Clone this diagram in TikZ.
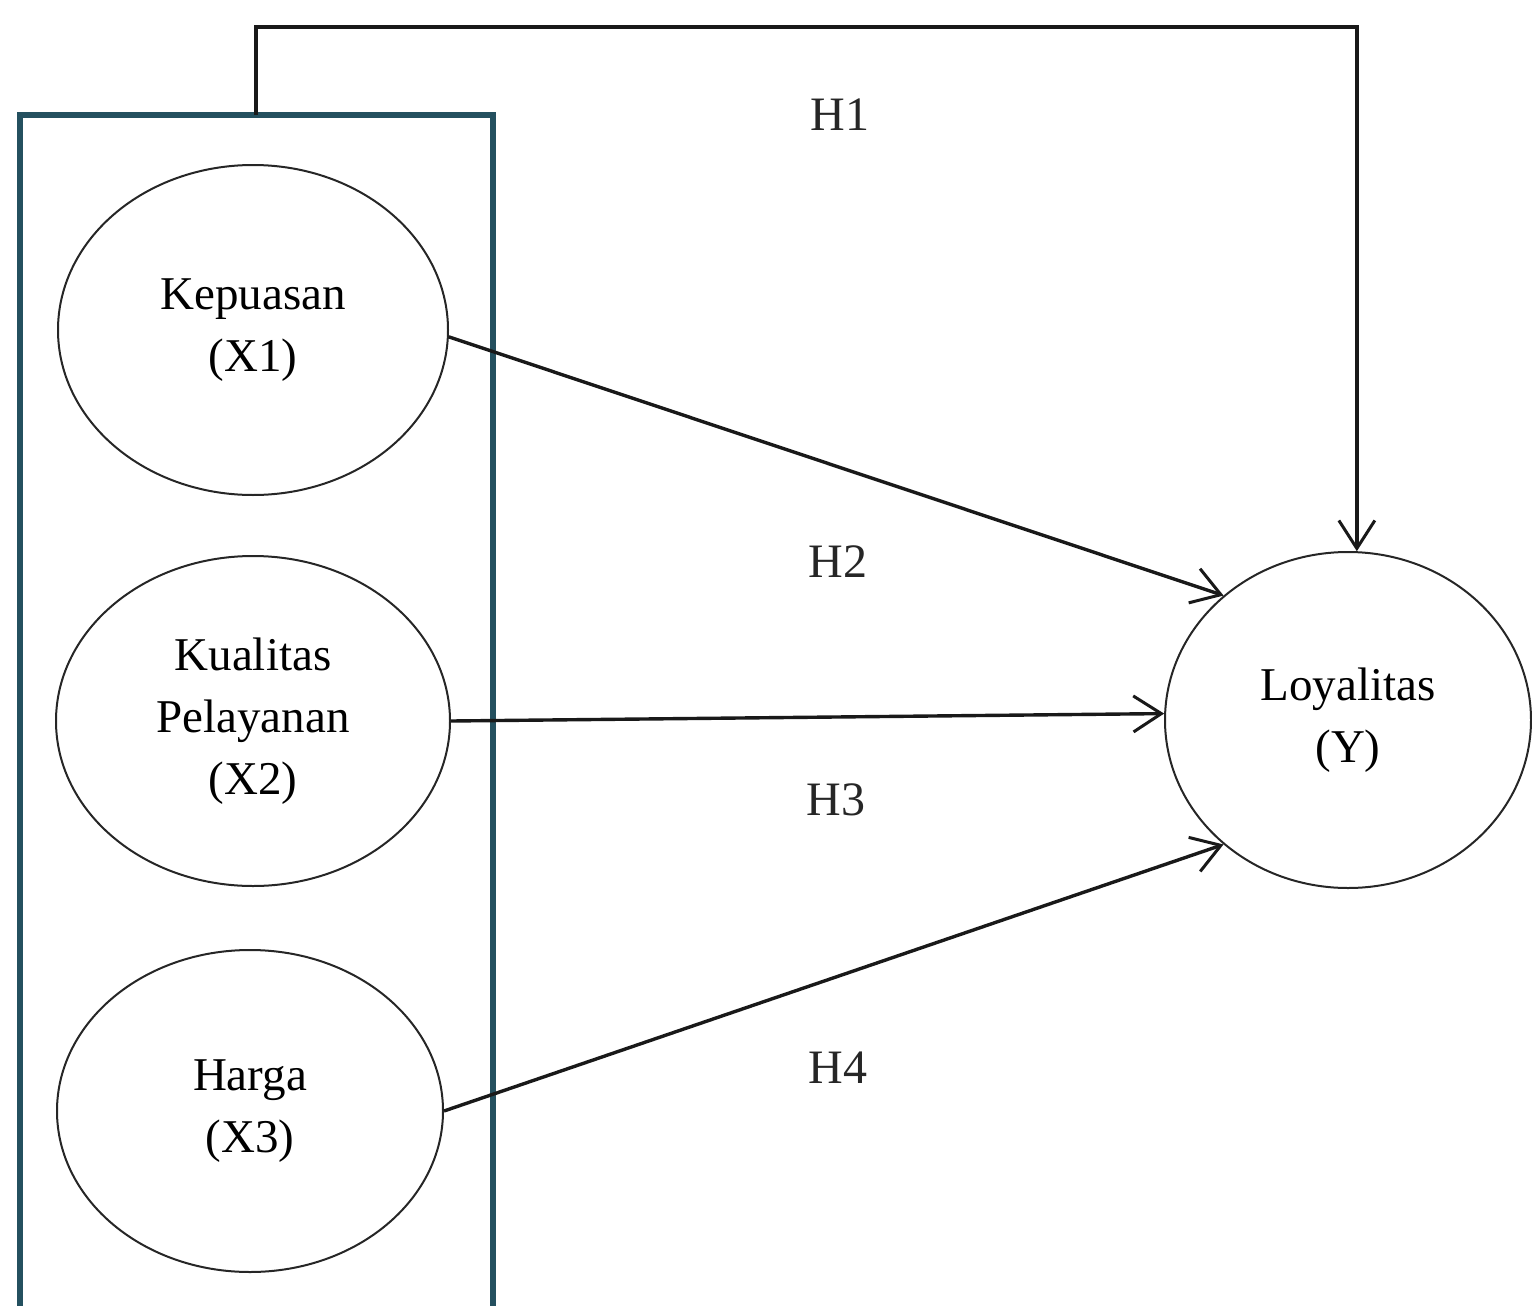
\documentclass[tikz,border=0pt]{standalone}
\usepackage{fontspec}
\setmainfont{Liberation Serif}
\usetikzlibrary{shapes.geometric,arrows.meta}
\definecolor{boxcol}{HTML}{24505F}
\tikzset{
  var/.style={ellipse,draw=black!85,line width=1pt,align=center,inner sep=0pt,
    font=\fontsize{23.5}{31}\selectfont},
  path/.style={line width=1.7pt,draw=black!90,-{Straight Barb[length=14pt,width=18pt,line width=1.5pt]}},
  hlab/.style={font=\fontsize{24}{28}\selectfont,text=black!85}
}
\begin{document}
\begin{tikzpicture}[x=0.5pt,y=-0.5pt]
\useasboundingbox (0,0) rectangle (1532,1306);
% box
\draw[boxcol,line width=2.6pt] (20,1312) -- (20,115) -- (493,115) -- (493,1312);
\coordinate (boxtop) at (256,115);
% variables
\node[var,minimum width=195pt,minimum height=165pt] (X1) at (253,330) {Kepuasan\\(X1)};
\node[var,minimum width=197pt,minimum height=165pt] (X2) at (253,721) {Kualitas\\Pelayanan\\(X2)};
\node[var,minimum width=193pt,minimum height=161pt] (X3) at (250,1111) {Harga\\(X3)};
\node[var,minimum width=183pt,minimum height=168pt] (Y) at (1348,720) {Loyalitas\\(Y)};
% connectors
\draw[path,line width=2pt] (boxtop) -- ++(0,-88) -| (Y.87);
\draw[path] (X1.358) -- (Y.135);
\draw[path] (X2.east) -- (Y.178);
\draw[path] (X3.east) -- (Y.225);
% labels
\node[hlab] (h1) at (840,115) {H1};
\node[hlab] (h2) at (838,562) {H2};
\node[hlab] (h3) at (836,800) {H3};
\node[hlab] (h4) at (838,1068) {H4};
\end{tikzpicture}
\end{document}
